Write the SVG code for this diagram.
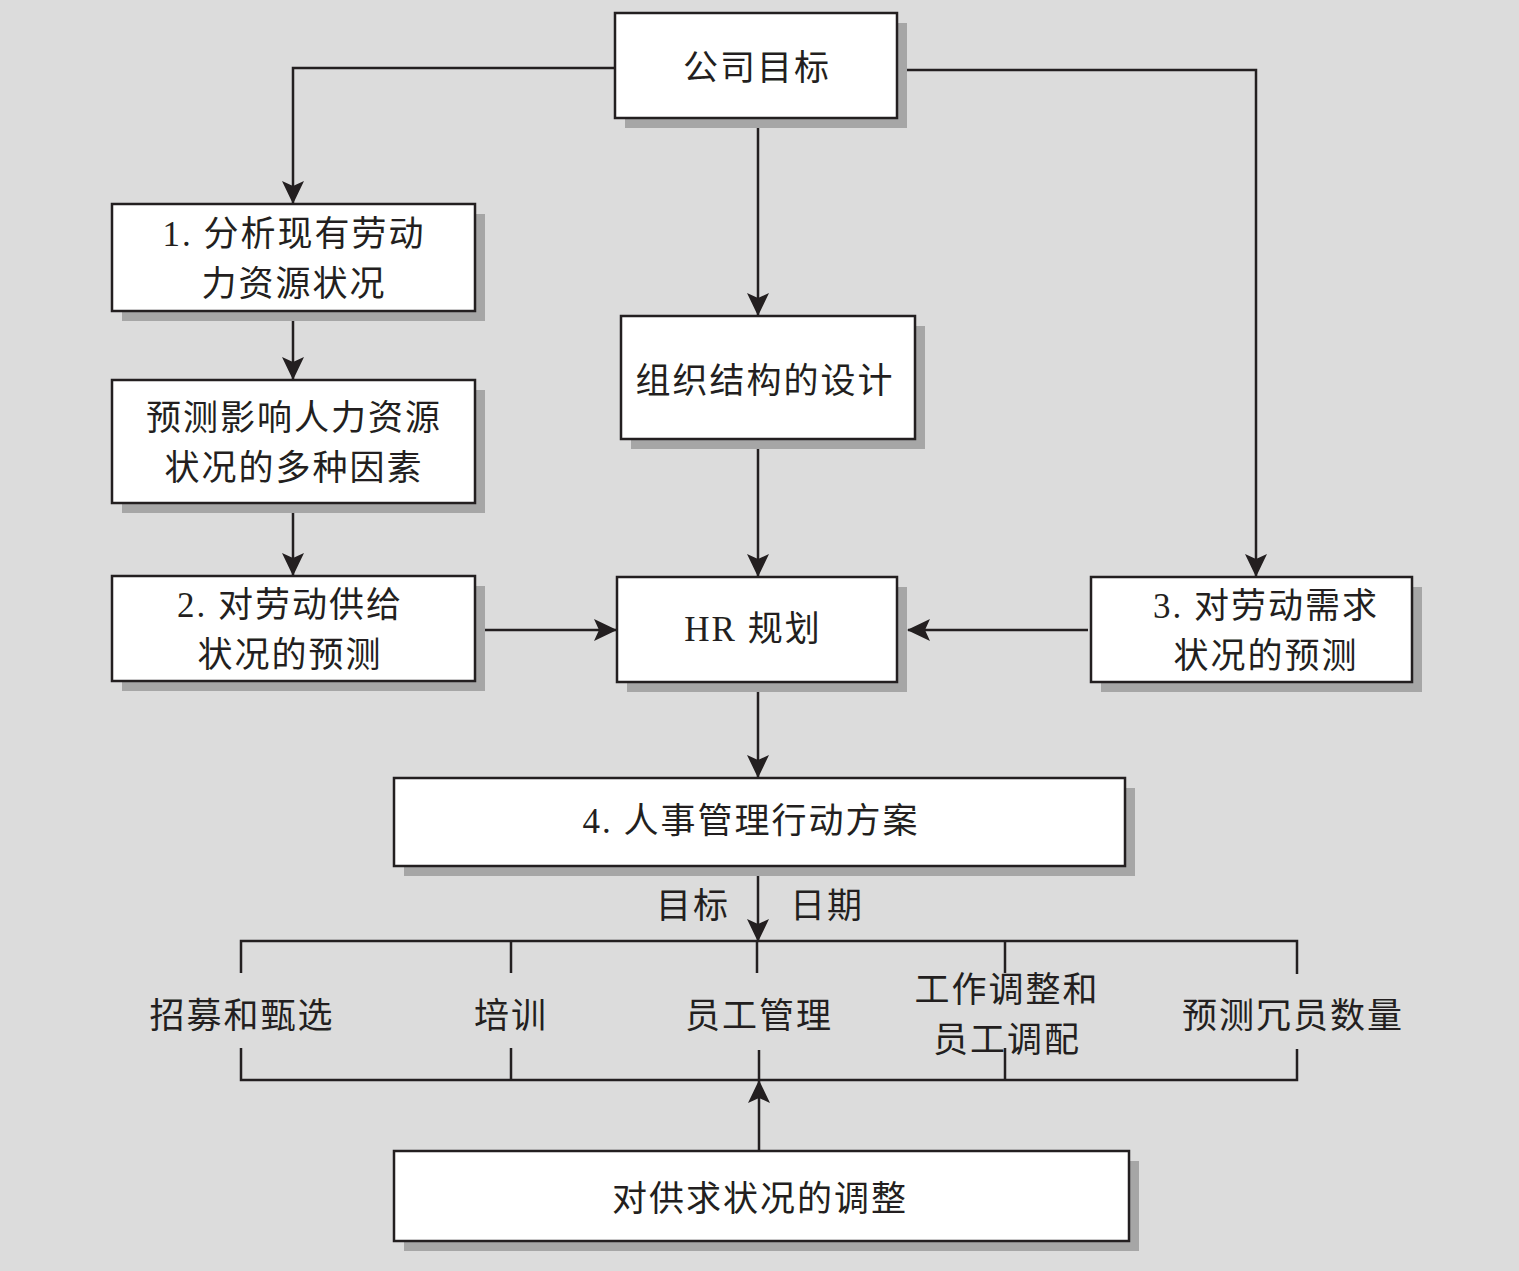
<svg xmlns="http://www.w3.org/2000/svg" width="1519" height="1271" viewBox="0 0 1519 1271">
<defs>
<style>
.bx{fill:#fff;stroke:#231f20;stroke-width:2.5}
.sh{fill:#a6a6a6}
.ln{fill:none;stroke:#231f20;stroke-width:2.5}
.t{font-family:"Liberation Serif","Noto Sans CJK SC",serif;font-size:35px;fill:#231f20;text-anchor:middle;letter-spacing:2px}
</style>
<marker id="ah" markerWidth="23" markerHeight="22" refX="22" refY="11" orient="auto" markerUnits="userSpaceOnUse">
<path d="M0,0 L23,11 L0,22 L5,11 z" fill="#231f20"/>
</marker>
</defs>
<rect width="1519" height="1271" fill="#dcdcdc"/>
<g id="connectors">
<path class="ln" d="M615,68 H293 V203" marker-end="url(#ah)"/>
<path class="ln" d="M897,70 H1256 V576" marker-end="url(#ah)"/>
<path class="ln" d="M758,118 V315" marker-end="url(#ah)"/>
<path class="ln" d="M293,311 V379" marker-end="url(#ah)"/>
<path class="ln" d="M293,503 V575" marker-end="url(#ah)"/>
<path class="ln" d="M475,630 H616" marker-end="url(#ah)"/>
<path class="ln" d="M758,439 V576" marker-end="url(#ah)"/>
<path class="ln" d="M1088,630 H908" marker-end="url(#ah)"/>
<path class="ln" d="M758,682 V777" marker-end="url(#ah)"/>
<path class="ln" d="M758,866 V941" marker-end="url(#ah)"/>
<path class="ln" d="M241,973 V941 H1297 V974"/>
<path class="ln" d="M511,941 V973 M757,941 V973 M1005,941 V973"/>
<path class="ln" d="M241,1048 V1080 H1297 V1049"/>
<path class="ln" d="M511,1048 V1080 M759,1050 V1080 M1005,1048 V1080"/>
<path class="ln" d="M759,1151 V1081" marker-end="url(#ah)"/>
</g>
<g id="n_goal"><rect class="sh" x="625" y="23" width="282" height="105"/><rect class="bx" x="615" y="13" width="282" height="105"/><text class="t" x="757" y="80">公司目标</text></g>
<g id="n_1"><rect class="sh" x="122" y="214" width="363" height="107"/><rect class="bx" x="112" y="204" width="363" height="107"/><text class="t" x="294" y="246">1. 分析现有劳动</text><text class="t" x="294" y="296">力资源状况</text></g>
<g id="n_factors"><rect class="sh" x="122" y="390" width="363" height="123"/><rect class="bx" x="112" y="380" width="363" height="123"/><text class="t" x="294" y="430">预测影响人力资源</text><text class="t" x="294" y="480">状况的多种因素</text></g>
<g id="n_2"><rect class="sh" x="122" y="586" width="363" height="105"/><rect class="bx" x="112" y="576" width="363" height="105"/><text class="t" x="290" y="617">2. 对劳动供给</text><text class="t" x="290" y="667">状况的预测</text></g>
<g id="n_org"><rect class="sh" x="631" y="326" width="294" height="123"/><rect class="bx" x="621" y="316" width="294" height="123"/><text class="t" x="765" y="393">组织结构的设计</text></g>
<g id="n_hr"><rect class="sh" x="627" y="587" width="280" height="105"/><rect class="bx" x="617" y="577" width="280" height="105"/><text class="t" x="753" y="641">HR 规划</text></g>
<g id="n_3"><rect class="sh" x="1101" y="587" width="321" height="105"/><rect class="bx" x="1091" y="577" width="321" height="105"/><text class="t" x="1266" y="618">3. 对劳动需求</text><text class="t" x="1266" y="668">状况的预测</text></g>
<g id="n_4"><rect class="sh" x="404" y="788" width="731" height="88"/><rect class="bx" x="394" y="778" width="731" height="88"/><text class="t" x="751" y="833">4. 人事管理行动方案</text></g>
<g id="l_goal"><text class="t" x="693" y="918">目标</text></g>
<g id="l_date"><text class="t" x="827" y="918">日期</text></g>
<g id="n_recruit"><text class="t" x="242" y="1028">招募和甄选</text></g>
<g id="n_train"><text class="t" x="511" y="1028">培训</text></g>
<g id="n_staff"><text class="t" x="759" y="1028">员工管理</text></g>
<g id="n_adjust"><text class="t" x="1007" y="1002">工作调整和</text><text class="t" x="1007" y="1052">员工调配</text></g>
<g id="n_redund"><text class="t" x="1293" y="1028">预测冗员数量</text></g>
<g id="n_balance"><rect class="sh" x="404" y="1161" width="735" height="90"/><rect class="bx" x="394" y="1151" width="735" height="90"/><text class="t" x="760" y="1211">对供求状况的调整</text></g>
</svg>
